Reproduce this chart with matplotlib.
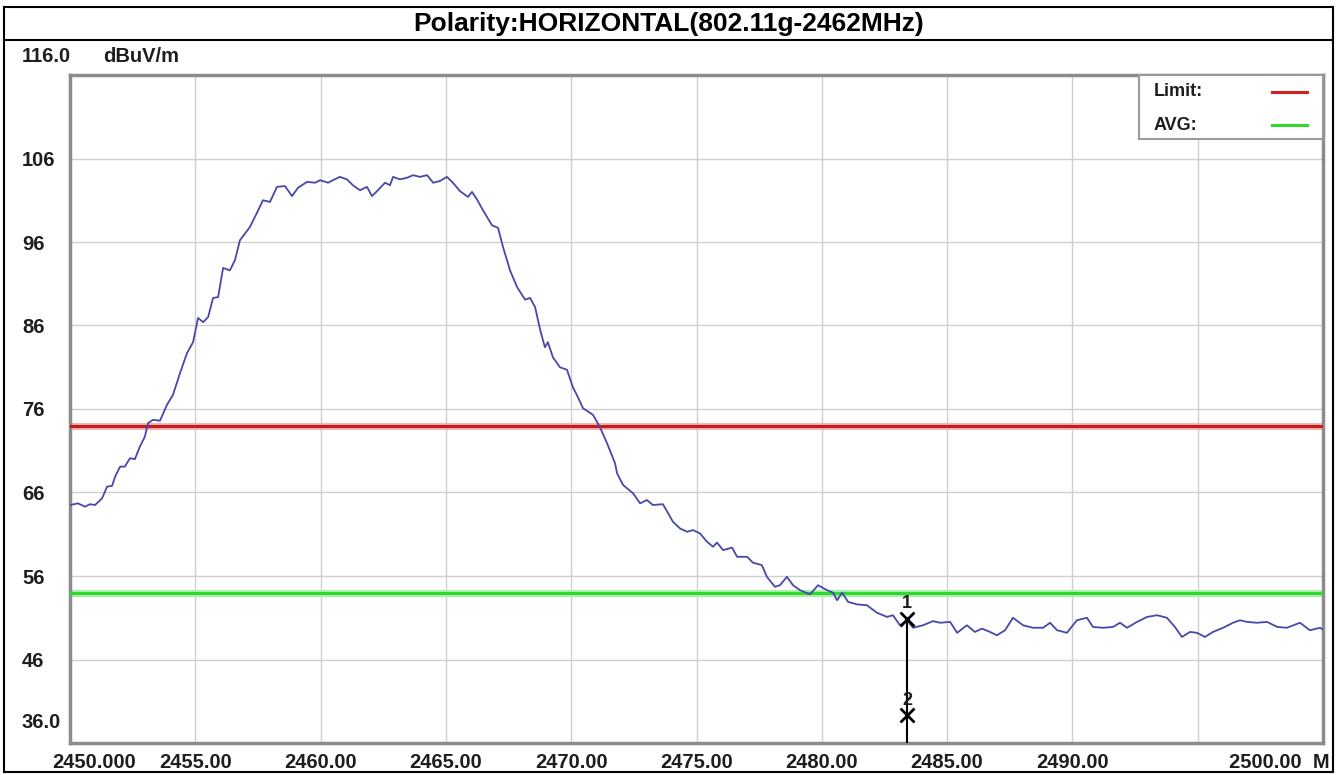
import matplotlib
matplotlib.use("Agg")
import matplotlib.pyplot as plt
from matplotlib.patches import Rectangle
from matplotlib.lines import Line2D

# ---------------- data ----------------
freq_mhz = [
    2450.00, 2450.32, 2450.60, 2450.80, 2451.00, 2451.28, 2451.48, 2451.68, 2451.80, 2452.00,
    2452.19, 2452.39, 2452.59, 2452.79, 2452.99, 2453.11, 2453.31, 2453.59, 2453.87, 2454.11,
    2454.39, 2454.67, 2454.91, 2455.11, 2455.31, 2455.51, 2455.71, 2455.91, 2456.11, 2456.38,
    2456.58, 2456.78, 2457.18, 2457.46, 2457.70, 2457.98, 2458.26, 2458.58, 2458.86, 2459.10,
    2459.46, 2459.78, 2459.98, 2460.30, 2460.49, 2460.77, 2461.05, 2461.29, 2461.57, 2461.85,
    2462.05, 2462.29, 2462.57, 2462.77, 2462.89, 2463.17, 2463.45, 2463.69, 2463.97, 2464.25,
    2464.49, 2464.76, 2465.04, 2465.28, 2465.56, 2465.88, 2466.04, 2466.24, 2466.48, 2466.84,
    2467.08, 2467.28, 2467.56, 2467.84, 2468.16, 2468.36, 2468.56, 2468.76, 2468.95, 2469.07,
    2469.27, 2469.55, 2469.83, 2470.07, 2470.27, 2470.47, 2470.87, 2471.15, 2471.43, 2471.75,
    2471.83, 2472.07, 2472.47, 2472.75, 2473.02, 2473.26, 2473.66, 2474.06, 2474.34, 2474.62,
    2474.86, 2475.14, 2475.42, 2475.66, 2475.82, 2476.06, 2476.42, 2476.62, 2477.02, 2477.25,
    2477.61, 2477.81, 2478.13, 2478.33, 2478.61, 2478.85, 2479.13, 2479.53, 2479.85, 2480.21,
    2480.45, 2480.61, 2480.81, 2481.05, 2481.41, 2481.80, 2482.20, 2482.60, 2482.84, 2483.12,
    2483.40, 2483.64, 2484.04, 2484.44, 2484.72, 2485.12, 2485.40, 2485.79, 2486.11, 2486.39,
    2486.71, 2486.99, 2487.31, 2487.63, 2488.03, 2488.43, 2488.83, 2489.11, 2489.39, 2489.78,
    2490.18, 2490.58, 2490.82, 2491.22, 2491.62, 2491.90, 2492.18, 2492.58, 2492.98, 2493.38,
    2493.77, 2494.09, 2494.37, 2494.69, 2494.97, 2495.29, 2495.61, 2496.01, 2496.41, 2496.69,
    2496.97, 2497.37, 2497.77, 2498.17, 2498.56, 2499.08, 2499.48, 2499.88, 2500.00,
]
level_dbuv = [
    64.5, 64.7, 64.3, 64.6, 64.5, 65.3, 66.7, 66.8, 67.9, 69.1,
    69.1, 70.1, 70.0, 71.5, 72.7, 74.3, 74.7, 74.6, 76.5, 77.7,
    80.3, 82.7, 84.0, 86.9, 86.4, 87.0, 89.3, 89.4, 92.9, 92.6,
    93.8, 96.2, 97.8, 99.5, 101.0, 100.8, 102.6, 102.7, 101.5, 102.5,
    103.2, 103.1, 103.4, 103.1, 103.4, 103.8, 103.5, 102.8, 102.2, 102.6,
    101.5, 102.2, 103.1, 102.8, 103.8, 103.5, 103.7, 104.0, 103.8, 104.0,
    103.1, 103.3, 103.8, 103.1, 102.1, 101.4, 102.0, 101.1, 99.8, 98.0,
    97.7, 95.4, 92.6, 90.6, 89.1, 89.3, 88.2, 85.5, 83.4, 84.0,
    82.2, 81.0, 80.7, 78.6, 77.4, 76.1, 75.3, 73.8, 71.9, 69.5,
    68.3, 66.9, 65.9, 64.7, 65.1, 64.5, 64.6, 62.5, 61.7, 61.3,
    61.5, 61.1, 60.1, 59.5, 60.0, 59.1, 59.4, 58.3, 58.3, 57.6,
    57.3, 55.9, 54.7, 54.9, 55.9, 54.9, 54.3, 53.8, 54.9, 54.3,
    54.0, 53.1, 54.0, 52.9, 52.6, 52.5, 51.6, 51.1, 51.3, 50.1,
    50.7, 49.8, 50.1, 50.6, 50.4, 50.5, 49.2, 50.1, 49.3, 49.7,
    49.3, 48.9, 49.5, 51.0, 50.1, 49.8, 49.8, 50.4, 49.5, 49.2,
    50.7, 51.0, 49.9, 49.8, 49.9, 50.4, 49.8, 50.5, 51.1, 51.3,
    51.0, 49.9, 48.7, 49.3, 49.2, 48.7, 49.3, 49.8, 50.4, 50.7,
    50.5, 50.4, 50.5, 49.9, 49.8, 50.4, 49.5, 49.8, 49.6,
]
limit_level = 74.0
avg_level = 54.0
marker_freq = 2483.40
marker_levels = [50.9, 39.3]
marker_names = ["1", "2"]

x_min, x_max = 2450.0, 2500.0
y_min, y_max = 36.0, 116.0
x_grid = [2455, 2460, 2465, 2470, 2475, 2480, 2485, 2490, 2495]
x_labels = ["2455.00", "2460.00", "2465.00", "2470.00", "2475.00",
            "2480.00", "2485.00", "2490.00", ""]
y_grid = [46, 56, 66, 76, 86, 96, 106]
y_labels = ["46", "56", "66", "76", "86", "96", "106"]
title = "Polarity:HORIZONTAL(802.11g-2462MHz)"

# ---------------- figure ----------------
W, H = 1343, 775
fig = plt.figure(figsize=(W / 100, H / 100), dpi=100)
fig.patch.set_facecolor("white")

FAM = "Liberation Sans"
FS = 14.5
TXT = "#1e1e1e"


def fx(px):
    return px / W


def fy(py):
    return 1 - py / H


L, R, T, B = 70, 1323, 75, 743
ax = fig.add_axes([fx(L), fy(B), fx(R - L), (B - T) / H])
ax.set_xlim(x_min, x_max)
ax.set_ylim(y_min, y_max)

for s in ax.spines.values():
    s.set_color("#8c8c8c")
    s.set_linewidth(2.5)

ax.set_xticks(x_grid)
ax.set_xticklabels(x_labels)
ax.set_yticks(y_grid)
ax.set_yticklabels(y_labels)
ax.tick_params(axis="both", length=0)
ax.tick_params(axis="x", pad=7)
ax.tick_params(axis="y", pad=34.5)
for lab in ax.get_yticklabels():
    lab.set_horizontalalignment("left")
for lab in ax.get_xticklabels() + ax.get_yticklabels():
    lab.set_fontfamily(FAM)
    lab.set_fontweight("bold")
    lab.set_fontsize(FS)
    lab.set_color(TXT)

ax.grid(True, color="#cfcfcf", linewidth=1.0)
ax.set_axisbelow(True)

# limit lines
ax.axhline(limit_level, color="#f4b0b0", linewidth=5, zorder=2)
ax.axhline(limit_level, color="#c41c1c", linewidth=2.2, zorder=3)
ax.axhline(avg_level, color="#a8f0a8", linewidth=5, zorder=2)
ax.axhline(avg_level, color="#2ed82e", linewidth=2.2, zorder=3)

# trace
ax.plot(freq_mhz, level_dbuv, color="#4848aa", linewidth=1.3, zorder=4)

# marker
ax.plot([marker_freq, marker_freq], [y_min, marker_levels[0]], color="black",
        linewidth=1.5, zorder=5)
for lv, nm in zip(marker_levels, marker_names):
    ax.plot([marker_freq], [lv], marker="x", color="black", markersize=10,
            markeredgewidth=2.0, zorder=6)
    ax.annotate(nm, (marker_freq, lv), xytext=(0, 5), textcoords="offset points",
                ha="center", va="bottom", fontsize=13, fontweight="bold",
                family=FAM, color=TXT, zorder=6)

# legend box
leg_left, leg_top, leg_right, leg_bottom = 1139, 75, 1323, 139
fig.patches.append(Rectangle((fx(leg_left), fy(leg_bottom)), fx(leg_right - leg_left),
                             (leg_bottom - leg_top) / H, transform=fig.transFigure,
                             facecolor="white", edgecolor="#9a9a9a", linewidth=1.5,
                             zorder=10))
fig.text(fx(1154), fy(92), "Limit:", ha="left", va="center", fontsize=13,
         fontweight="bold", family=FAM, color=TXT, zorder=11)
fig.text(fx(1154), fy(125), "AVG:", ha="left", va="center", fontsize=13,
         fontweight="bold", family=FAM, color=TXT, zorder=11)
fig.lines.append(Line2D([fx(1272), fx(1307)], [fy(92), fy(92)], transform=fig.transFigure,
                        color="#d02020", linewidth=2.2, zorder=11))
fig.lines.append(Line2D([fx(1272), fx(1307)], [fy(125), fy(125)], transform=fig.transFigure,
                        color="#30d830", linewidth=2.2, zorder=11))

# axis end labels and units
fig.text(fx(22), fy(57), "116.0", ha="left", va="center", fontsize=FS,
         fontweight="bold", family=FAM, color=TXT)
fig.text(fx(103), fy(57), "dBuV/m", ha="left", va="center", fontsize=FS,
         fontweight="bold", family=FAM, color=TXT)
fig.text(fx(22), fy(722), "36.0", ha="left", va="center", fontsize=FS,
         fontweight="bold", family=FAM, color=TXT)
fig.text(fx(94), fy(763), "2450.000", ha="center", va="center", fontsize=FS,
         fontweight="bold", family=FAM, color=TXT)
fig.text(fx(1229), fy(763), "2500.00  M", ha="left", va="center", fontsize=FS,
         fontweight="bold", family=FAM, color=TXT, zorder=1)

# outer frame and title
fig.patches.append(Rectangle((fx(4), fy(772)), fx(1333 - 4), (772 - 7) / H,
                             transform=fig.transFigure, facecolor="none",
                             edgecolor="black", linewidth=1.5, zorder=21))
fig.lines.append(Line2D([fx(4), fx(1333)], [fy(40), fy(40)], transform=fig.transFigure,
                        color="black", linewidth=1.5, zorder=21))
fig.text(fx(669), fy(24), title, ha="center", va="center", fontsize=19,
         fontweight="bold", family=FAM, color="black")

fig.savefig("out.png", dpi=100, facecolor="white")
